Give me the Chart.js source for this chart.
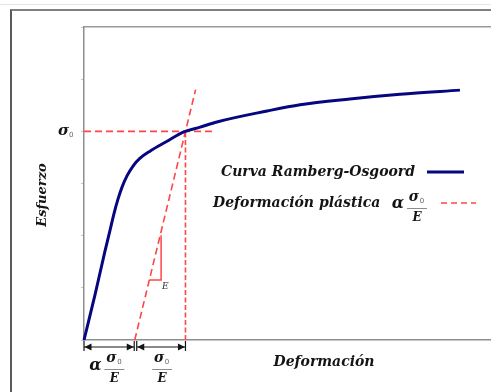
<!DOCTYPE html>
<html lang="es">
<head>
<meta charset="utf-8">
<title>Curva Ramberg-Osgoord</title>
<script src="https://cdn.jsdelivr.net/npm/chart.js@4.4.1/dist/chart.umd.min.js"></script>
<style>
    html, body { margin: 0; padding: 0; background: #fff; overflow: hidden; }
    #wrap { position: relative; width: 491px; height: 392px; overflow: hidden; }
    .lineaTop { position: absolute; left: 0; top: 4px; width: 100%; border-top: 1px solid #e4e4e4; }
    .marco { position: absolute; left: 10px; top: 9px; width: 700px; height: 700px; border-top: 2px solid #808080; border-left: 2px solid #5a5a5a; }
    canvas { position: absolute; left: 0; top: 0; }
</style>
</head>
<body>
<div id="wrap">
    <div class="lineaTop"></div>
    <div class="marco"></div>
    <canvas id="grafico" width="500" height="392"></canvas>
</div>
<script>
// Curva Ramberg-Osgood (unidades arbitrarias)
const deformacion = [0, 0.22, 0.41, 0.51, 0.59, 0.67, 0.75, 0.85, 0.97, 1.10, 1.30, 1.62, 1.97, 2.29, 2.62, 3.61, 4.26, 5.24, 6.23, 7.41];
const esfuerzo    = [0, 0.88, 1.69, 2.09, 2.42, 2.70, 2.93, 3.15, 3.34, 3.48, 3.62, 3.80, 3.99, 4.08, 4.18, 4.39, 4.51, 4.62, 4.71, 4.79];

// sigma0 y las dos deformaciones (alpha*sigma0/E y sigma0/E)
const sigma0 = 4;
const defPlastica = 1;
const defElastica = 1;

// recta de pendiente E desplazada
const rectaX = [1, 2.2];
const rectaY = [0, 4.8];

// triangulito de la pendiente E
const trianguloX = [1.29, 1.52, 1.52];
const trianguloY = [1.15, 1.15, 2.01];

// línea horizontal de sigma0
const sigmaLineaX = [0, 2.52];

// ejes
const ejeXmax = 8.2;
const ejeYmax = 6;
const ejeYpaso = 1;

const AZUL = '#06067f';
const ROJO = '#ff4545';
const NEGRO = '#141414';

function puntos(xs, ys) {
    return xs.map((x, i) => ({ x, y: ys[i] }));
}

function fuente(size, estilo) {
    return `${estilo || 'italic bold'} ${size}px "DejaVu Serif", serif`;
}

// sigma_0 / E apilado
function fraccion(ctx, cx, top) {
    ctx.textAlign = 'center';
    ctx.textBaseline = 'middle';
    ctx.fillStyle = NEGRO;
    ctx.font = fuente(14);
    ctx.fillText('σ', cx - 3, top);
    ctx.font = '7px "DejaVu Sans", sans-serif';
    ctx.fillStyle = '#666';
    ctx.fillText('0', cx + 5, top + 4);
    ctx.strokeStyle = '#8c8c8c';
    ctx.lineWidth = 1;
    ctx.beginPath();
    ctx.moveTo(cx - 10, top + 11.5);
    ctx.lineTo(cx + 10, top + 11.5);
    ctx.stroke();
    ctx.fillStyle = NEGRO;
    ctx.font = fuente(12);
    ctx.fillText('E', cx, top + 21);
}

function punta(ctx, x, y, dir) {
    ctx.beginPath();
    ctx.moveTo(x, y);
    ctx.lineTo(x + dir * 7, y - 3.5);
    ctx.lineTo(x + dir * 7, y + 3.5);
    ctx.closePath();
    ctx.fill();
}

function flecha(ctx, x0, x1, y) {
    ctx.strokeStyle = NEGRO;
    ctx.fillStyle = NEGRO;
    ctx.lineWidth = 1.2;
    ctx.beginPath();
    ctx.moveTo(x0, y);
    ctx.lineTo(x1, y);
    ctx.moveTo(x0, y - 6);
    ctx.lineTo(x0, y + 4);
    ctx.moveTo(x1, y - 6);
    ctx.lineTo(x1, y + 4);
    ctx.stroke();
    punta(ctx, x0 + 0.5, y, 1);
    punta(ctx, x1 - 0.5, y, -1);
}

const anotaciones = {
    id: 'anotaciones',
    afterDatasetsDraw(chart) {
        const { ctx, chartArea: a, scales: { x, y } } = chart;
        ctx.save();

        // eje Y: sigma0
        const ySig = y.getPixelForValue(sigma0);
        ctx.fillStyle = NEGRO;
        ctx.textAlign = 'right';
        ctx.textBaseline = 'middle';
        ctx.font = fuente(15);
        ctx.fillText('σ', a.left - 15, ySig);
        ctx.font = '7px "DejaVu Sans", sans-serif';
        ctx.fillStyle = '#666';
        ctx.textAlign = 'left';
        ctx.fillText('0', a.left - 15, ySig + 4);

        // titulo eje Y
        ctx.save();
        ctx.translate(a.left - 41, 195);
        ctx.rotate(-Math.PI / 2);
        ctx.textAlign = 'center';
        ctx.fillStyle = NEGRO;
        ctx.font = fuente(13);
        ctx.fillText('Esfuerzo', 0, 0);
        ctx.restore();

        // titulo eje X
        ctx.textAlign = 'center';
        ctx.fillStyle = NEGRO;
        ctx.font = fuente(14);
        ctx.fillText('Deformación', a.left + 240, a.bottom + 22);

        // flechas bajo el eje
        const x0 = x.getPixelForValue(0);
        const x1 = x.getPixelForValue(defPlastica);
        const x2 = x.getPixelForValue(defPlastica + defElastica);
        const yf = a.bottom + 7;
        flecha(ctx, x0, x1 - 0.5, yf);
        flecha(ctx, x1 + 2, x2, yf);

        // etiquetas bajo las flechas
        const m1 = (x0 + x1) / 2;
        const m2 = (x1 + x2) / 2;
        ctx.font = fuente(16);
        ctx.textAlign = 'center';
        ctx.fillStyle = NEGRO;
        ctx.fillText('α', m1 - 14, a.bottom + 26);
        fraccion(ctx, m1 + 5, a.bottom + 18);
        fraccion(ctx, m2 + 2, a.bottom + 18);

        // E del triangulo
        ctx.font = 'italic 9px "DejaVu Serif", serif';
        ctx.fillStyle = '#333';
        ctx.textAlign = 'left';
        ctx.fillText('E', x.getPixelForValue(trianguloX[2]) + 1, y.getPixelForValue(trianguloY[0]) + 7);

        // leyenda
        ctx.fillStyle = NEGRO;
        ctx.font = fuente(14);
        ctx.textAlign = 'left';
        ctx.fillText('Curva Ramberg-Osgoord', a.left + 137, 172);
        ctx.fillText('Deformación plástica', a.left + 129, 203);
        ctx.font = fuente(16);
        ctx.textAlign = 'center';
        ctx.fillText('α', a.left + 314, 204);
        fraccion(ctx, a.left + 333, 197);

        ctx.lineWidth = 3;
        ctx.strokeStyle = AZUL;
        ctx.beginPath();
        ctx.moveTo(a.left + 343, 172);
        ctx.lineTo(a.left + 380, 172);
        ctx.stroke();

        ctx.lineWidth = 1.5;
        ctx.strokeStyle = ROJO;
        ctx.setLineDash([6, 4]);
        ctx.beginPath();
        ctx.moveTo(a.left + 357, 203);
        ctx.lineTo(a.left + 392, 203);
        ctx.stroke();
        ctx.restore();
    }
};

new Chart(document.getElementById('grafico'), {
    type: 'scatter',
    data: {
        datasets: [
            {
                label: 'Curva Ramberg-Osgoord',
                data: puntos(deformacion, esfuerzo),
                showLine: true,
                borderColor: AZUL,
                borderWidth: 3,
                pointRadius: 0,
                cubicInterpolationMode: 'monotone',
                clip: false,
                order: 1
            },
            {
                label: 'Deformación plástica',
                data: puntos(rectaX, rectaY),
                showLine: true,
                borderColor: ROJO,
                borderWidth: 1.6,
                borderDash: [7, 4],
                pointRadius: 0,
                order: 2
            },
            {
                label: 'sigma0',
                data: puntos(sigmaLineaX, [sigma0, sigma0]),
                showLine: true,
                borderColor: ROJO,
                borderWidth: 1.6,
                borderDash: [7, 4],
                pointRadius: 0,
                order: 2
            },
            {
                label: 'vertical',
                data: puntos([defPlastica + defElastica, defPlastica + defElastica], [0, sigma0]),
                showLine: true,
                borderColor: ROJO,
                borderWidth: 1.6,
                borderDash: [5, 2.5],
                pointRadius: 0,
                order: 2
            },
            {
                label: 'triangulo',
                data: puntos(trianguloX, trianguloY),
                showLine: true,
                borderColor: ROJO,
                borderWidth: 1.5,
                pointRadius: 0,
                order: 2
            }
        ]
    },
    options: {
        responsive: false,
        animation: false,
        devicePixelRatio: 1,
        layout: { padding: { left: 81, top: 27, right: 0, bottom: 52 } },
        plugins: { legend: { display: false }, tooltip: { enabled: false } },
        scales: {
            x: {
                type: 'linear',
                min: 0,
                max: ejeXmax,
                ticks: { display: false },
                grid: { display: false, drawTicks: false },
                border: { display: true, color: '#8e8e8e', width: 1.5 }
            },
            xTop: {
                type: 'linear',
                position: 'top',
                display: true,
                min: 0,
                max: ejeXmax,
                ticks: { display: false },
                grid: { display: false, drawTicks: false },
                border: { display: true, color: '#9a9a9a', width: 1.5 }
            },
            y: {
                type: 'linear',
                min: 0,
                max: ejeYmax,
                ticks: { display: false, stepSize: ejeYpaso },
                grid: { drawOnChartArea: false, drawTicks: true, tickLength: 3, color: '#c8c8c8' },
                border: { display: true, color: '#8e8e8e', width: 1.5 }
            }
        }
    },
    plugins: [anotaciones]
});
</script>
</body>
</html>
